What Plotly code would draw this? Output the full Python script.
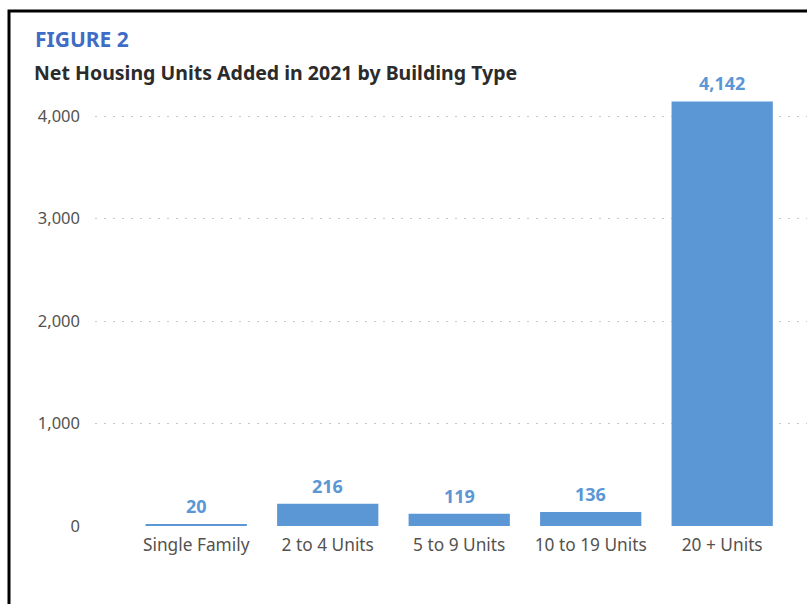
import plotly.graph_objects as go

# Net housing units added in 2021, by building type
categories = ["Single Family", "2 to 4 Units", "5 to 9 Units", "10 to 19 Units", "20 + Units"]
units_added = [20, 216, 119, 136, 4142]
y_ticks = [0, 1000, 2000, 3000, 4000]
y_tick_labels = ["0", "1,000", "2,000", "3,000", "4,000"]

BAR_BLUE = "#5B96D5"
LABEL_BLUE = "#5B96D5"
FIG_BLUE = "#3F6CC6"
TEXT_DARK = "#2B2B2B"
TICK_GRAY = "#54524F"
FONT = "Noto Sans"

W, H = 807, 604
PLOT_L, PLOT_R, PLOT_T, PLOT_B = 95, 807, 85, 526


def px_x(px):
    return (px - PLOT_L) / (PLOT_R - PLOT_L)


def px_y(py):
    return (PLOT_B - py) / (PLOT_B - PLOT_T)


fig = go.Figure(
    go.Bar(
        x=categories,
        y=units_added,
        marker=dict(color=BAR_BLUE, line=dict(width=0)),
        hoverinfo="x+y",
    )
)

# Value labels above each bar
for cat, val in zip(categories, units_added):
    fig.add_annotation(
        x=cat, y=val, xref="x", yref="y",
        text=f"<b>{val:,}</b>", showarrow=False,
        yanchor="bottom", yshift=4,
        font=dict(family=FONT, size=18, color=LABEL_BLUE),
    )

fig.add_annotation(
    x=px_x(33), y=px_y(39), xref="paper", yref="paper",
    xanchor="left", yanchor="middle", showarrow=False,
    text="<b>FIGURE 2</b>",
    font=dict(family=FONT, size=21, color=FIG_BLUE),
)
fig.add_annotation(
    x=px_x(32), y=px_y(73), xref="paper", yref="paper",
    xanchor="left", yanchor="middle", showarrow=False,
    text="<b>Net Housing Units Added in 2021 by Building Type</b>",
    font=dict(family=FONT, size=19.5, color=TEXT_DARK),
)

# Frame line along the top and left of the panel
fig.add_shape(
    type="rect", xref="paper", yref="paper",
    x0=px_x(9), x1=px_x(830), y0=px_y(11), y1=px_y(640),
    line=dict(color="black", width=3), fillcolor="rgba(0,0,0,0)",
    layer="above",
)

fig.update_layout(
    width=W, height=H,
    margin=dict(l=PLOT_L, r=W - PLOT_R, t=PLOT_T, b=H - PLOT_B),
    paper_bgcolor="white", plot_bgcolor="white",
    showlegend=False,
    bargap=0.23,
    font=dict(family=FONT, size=17, color=TICK_GRAY),
    xaxis=dict(
        range=[-0.77, 4.645],
        showgrid=False, showline=False, zeroline=False, ticks="",
        ticklabelstandoff=7,
        tickfont=dict(family=FONT, size=17.3, color=TICK_GRAY),
        fixedrange=True,
    ),
    yaxis=dict(
        range=[0, (PLOT_B - PLOT_T) / 0.1025],
        tickvals=y_ticks, ticktext=y_tick_labels,
        showgrid=True, gridcolor="#C8C8C8", gridwidth=1, griddash="2px,7px",
        zeroline=False, showline=False, ticks="",
        ticklabelstandoff=14,
        tickfont=dict(family=FONT, size=16.5, color=TICK_GRAY),
        fixedrange=True,
    ),
)

fig.write_html("out.html")
